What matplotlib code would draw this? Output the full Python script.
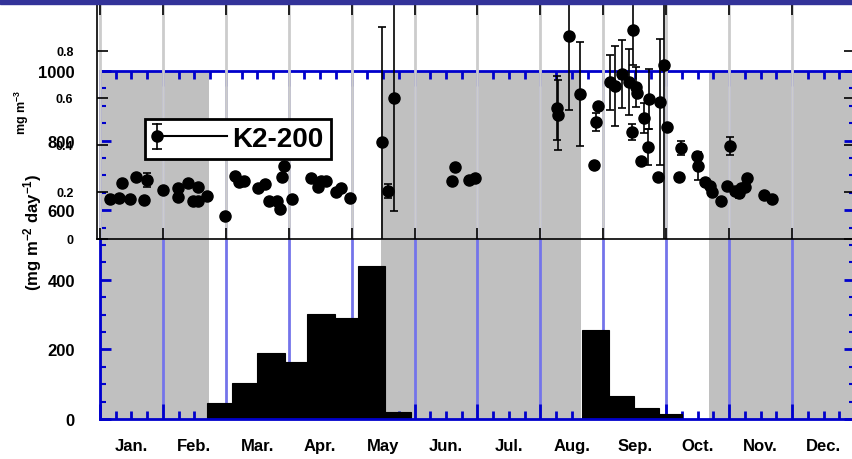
import matplotlib
matplotlib.use('Agg')
import matplotlib.pyplot as plt
from matplotlib.lines import Line2D
from matplotlib.patches import Rectangle
from matplotlib.legend_handler import HandlerBase
from matplotlib import transforms

plt.rcParams['font.family'] = ['Liberation Sans', 'DejaVu Sans']
plt.rcParams['font.weight'] = 'bold'
plt.rcParams['mathtext.fontset'] = 'custom'
plt.rcParams['mathtext.rm'] = 'Liberation Sans:bold'
plt.rcParams['mathtext.default'] = 'rm'

months = ['Jan.', 'Feb.', 'Mar.', 'Apr.', 'May', 'Jun.', 'Jul.', 'Aug.', 'Sep.', 'Oct.', 'Nov.', 'Dec.']

# flux bars (day of year edges, mg m-2 day-1)
bar_start = [51.6, 64.0, 76.0, 89.4, 100.2, 113.8, 124.6, 137.8, 232.9, 246.1, 258.3, 270.4]
bar_end = [64.0, 76.0, 89.4, 100.2, 113.8, 124.6, 137.8, 150.2, 246.1, 258.3, 270.4, 281.2]
bar_flux = [46, 103, 190, 163, 302, 289, 440, 19, 257, 65, 32, 15]

# grey periods
shade_start = [0, 135.7, 294.5]
shade_end = [52.5, 232.5, 365]

# K2-200 concentration (mg m-3)
conc_day = [4.8, 9.2, 10.6, 14.5, 17.4, 21.3, 22.7, 30.4, 37.5, 37.7, 42.6, 44.8, 47.5, 47.5, 51.5,
            60.4, 65.2, 67.1, 69.7, 76.5, 80.0, 81.8, 85.6, 87.0, 87.8, 88.9, 92.6,
            101.8, 105.4, 106.6, 109.2, 114.0, 116.7, 120.7,
            136.4, 139.0, 142.2,
            170.0, 171.5, 178.3, 181.2,
            220.8, 221.3, 226.6, 232.0, 238.6, 239.6, 240.6,
            246.4, 248.8, 252.2, 255.6, 257.0, 257.5, 259.1, 259.6, 261.4, 262.8, 264.7, 265.2,
            270.0, 270.5, 272.5, 274.0,
            279.7, 281.0, 288.4, 289.0, 292.7, 294.7, 296.0, 300.0, 303.0, 304.8, 306.8, 308.7,
            310.0, 312.0, 313.0, 321.0, 325.0]
conc_val = [0.17, 0.174, 0.238, 0.17, 0.264, 0.166, 0.251, 0.209, 0.178, 0.217, 0.238, 0.163, 0.163, 0.221, 0.184,
            0.097, 0.27, 0.242, 0.248, 0.216, 0.234, 0.163, 0.163, 0.128, 0.263, 0.312, 0.17,
            0.258, 0.22, 0.248, 0.248, 0.2, 0.216, 0.174,
            0.411, 0.205, 0.6,
            0.248, 0.305, 0.251, 0.258,
            0.557, 0.528, 0.865, 0.617, 0.315, 0.498, 0.566,
            0.668, 0.651, 0.702, 0.668, 0.456, 0.89, 0.645, 0.62, 0.332, 0.515, 0.391, 0.596,
            0.264, 0.583, 0.74, 0.477,
            0.264, 0.387, 0.353, 0.311, 0.243, 0.226, 0.2, 0.163, 0.226, 0.396, 0.204, 0.196,
            0.217, 0.221, 0.26, 0.187, 0.17]
conc_err = [0, 0, 0, 0, 0, 0, 0.03, 0, 0, 0, 0, 0, 0, 0, 0,
            0, 0.01, 0, 0, 0, 0.01, 0, 0, 0, 0, 0, 0,
            0.01, 0, 0, 0, 0, 0, 0,
            0.49, 0.03, 0.48,
            0.01, 0, 0, 0,
            0.136, 0.15, 0.315, 0.22, 0, 0.04, 0,
            0.117, 0.17, 0.145, 0.14, 0.035, 0.15, 0.085, 0, 0, 0.065, 0.075, 0.128,
            0, 0.27, 0.8, 0,
            0, 0.03, 0.01, 0.06, 0.01, 0, 0, 0, 0, 0.04, 0, 0.02,
            0, 0, 0, 0, 0]

W, H = 853, 460
fig = plt.figure(figsize=(W / 100, H / 100), dpi=100)
blue = '#0000cc'
month_edges = [k * 365 / 12 for k in range(13)]
month_mid = [(k + 0.5) * 365 / 12 for k in range(12)]
quarter = [(k + j / 4) * 365 / 12 for k in range(12) for j in (1, 2, 3)]

# ---- bottom chart: flux
ax = fig.add_axes([100 / W, 1 - 420 / H, 755 / W, 348 / H], zorder=1)
for s, e in zip(shade_start, shade_end):
    ax.axvspan(s, e, color='#c0c0c0', lw=0, zorder=0.5)
widths = [e - s for s, e in zip(bar_start, bar_end)]
ax.bar(bar_start, bar_flux, width=widths, align='edge', color='black', edgecolor='black', lw=0.8, zorder=2)
ax.set_xlim(0, 365)
ax.set_ylim(0, 1000)
ax.set_xticks(month_edges)
ax.set_xticks(quarter, minor=True)
ax.set_xticklabels([])
ax.set_yticks([0, 200, 400, 600, 800, 1000])
ax.set_yticks(range(0, 1001, 50), minor=True)
ax.tick_params(axis='both', which='both', direction='in', colors=blue, labelcolor='black',
               top=True, right=True, labelsize=12, width=2)
ax.tick_params(axis='x', which='major', length=11)
ax.tick_params(axis='x', which='minor', length=6)
ax.tick_params(axis='y', which='major', length=8, pad=18)
ax.tick_params(axis='y', which='minor', length=4, width=1.5)
for sp in ax.spines.values():
    sp.set_color(blue)
    sp.set_linewidth(2)
ax.grid(axis='x', which='major', color='#7474ea', lw=2)
tr = transforms.blended_transform_factory(ax.transData, ax.transAxes)
for m, lab in zip(month_mid, months):
    ax.text(m, -0.075, lab, transform=tr, ha='center', va='center', fontsize=12, fontweight='bold')
fig.text(33 / W, 1 - 232 / H, '(mg m$^{-2}$ day$^{-1}$)', rotation=90, ha='center', va='center',
         fontsize=12, fontweight='bold')

# ---- top chart: concentration
ax2 = fig.add_axes([97 / W, 1 - 240 / H, 758 / W, 235 / H], zorder=2)
ax2.patch.set_visible(False)
ax2.errorbar(conc_day, conc_val, yerr=conc_err, fmt='o', color='black', ms=8, elinewidth=1.2,
             capsize=3, capthick=1.2, zorder=3)
ax2.set_xlim(-1.45, 365)
ax2.set_ylim(0, 1.0)
ax2.set_xticks(month_edges)
ax2.set_xticklabels([])
ax2.set_yticks([0, 0.2, 0.4, 0.6, 0.8])
ax2.set_yticklabels(['0', '0.2', '0.4', '0.6', '0.8'])
ax2.tick_params(axis='both', direction='in', length=8, width=1.2, top=True, right=True,
                labelsize=9, pad=17)
for sp in ax2.spines.values():
    sp.set_linewidth(1.2)
ax2.grid(axis='x', color='#cccccc', lw=2)
fig.text(22 / W, 1 - 112 / H, 'mg m$^{-3}$', rotation=90, ha='center', va='center',
         fontsize=9, fontweight='bold')


class ErrHandle(HandlerBase):
    def create_artists(self, legend, orig, xd, yd, w, h, fs, trans):
        y = h / 2 - yd
        x0 = -xd + 4
        line = Line2D([x0, w - xd], [y, y], color='black', lw=1.5, transform=trans)
        bar = Line2D([x0, x0], [y - h * 0.65, y + h * 0.65], color='black', lw=1.2,
                     marker='_', ms=7, mew=1.2, transform=trans)
        dot = Line2D([x0], [y], marker='o', ms=8, color='black', transform=trans)
        return [line, bar, dot]


handle = Line2D([], [])
leg = ax2.legend([handle], ['K2-200'], handler_map={handle: ErrHandle()}, loc='lower left',
                 bbox_to_anchor=((145 - 97) / 758, (240 - 160) / 235), borderaxespad=0,
                 prop={'size': 20, 'weight': 'bold'}, handlelength=2.7, handletextpad=0.2,
                 fancybox=False, framealpha=1, edgecolor='black', borderpad=0.25)
leg.get_frame().set_linewidth(2)

# window banner
fig.add_artist(Rectangle((0, 1 - 5 / H), 1, 5 / H, transform=fig.transFigure,
                         color='#333399', zorder=10))

fig.savefig('out.png', dpi=100)
